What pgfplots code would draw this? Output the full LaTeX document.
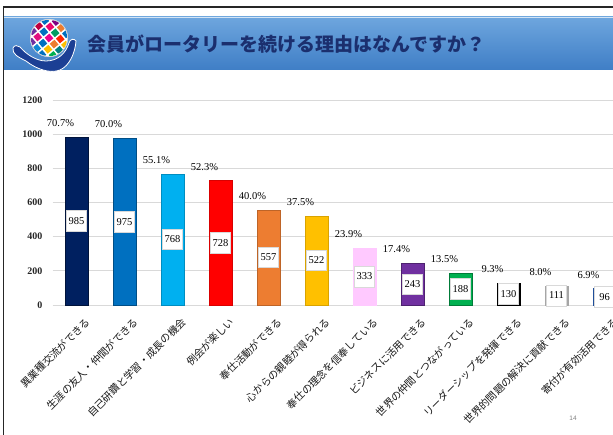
\documentclass[border=0pt]{standalone}
\usepackage{fontspec}
\setmainfont{Liberation Serif}
\setsansfont{Liberation Sans}
\newfontfamily\jp{Noto Sans CJK JP}
\usepackage{pgfplots}
\pgfplotsset{compat=1.18}
\usepackage{pgfplotstable}

\definecolor{bannerTop}{HTML}{6EA6DE}
\definecolor{bannerBot}{HTML}{3F7EC6}
\definecolor{titleC}{HTML}{1B2F6E}
\definecolor{handC}{HTML}{1C3F94}
\definecolor{c1}{HTML}{002060}
\definecolor{c2}{HTML}{0070C0}
\definecolor{c3}{HTML}{00B0F0}
\definecolor{c4}{HTML}{FF0000}
\definecolor{c5}{HTML}{ED7D31}
\definecolor{c6}{HTML}{FFC000}
\definecolor{c7}{HTML}{FFC9FF}
\definecolor{c8}{HTML}{7030A0}
\definecolor{c9}{HTML}{00B050}
\definecolor{c10}{HTML}{000000}
\definecolor{c11}{HTML}{A6A6A6}
\definecolor{c12}{HTML}{1F4E9A}

\pgfplotstableread{
x y half pct
0 985 492.5 70.7
1 975 487.5 70.0
2 768 384 55.1
3 728 364 52.3
4 557 278.5 40.0
5 522 261 37.5
6 333 166.5 23.9
7 243 121.5 17.4
8 188 94 13.5
9 130 65 9.3
10 111 55.5 8.0
11 96 48 6.9
}\datatable

\begin{document}
\begin{tikzpicture}
\useasboundingbox (0pt,0pt) rectangle (613pt,435pt);
\clip (0pt,0pt) rectangle (613pt,435pt);
\begin{scope}[x=1pt,y=1pt]
\fill[white] (0,0) rectangle (613,435);
% slide frame
\draw[black!85, line width=1.4pt] (3.5,-2) -- (3.5,428) -- (615,428);
% banner
\shade[top color=bannerTop, bottom color=bannerBot] (4.2,365) rectangle (615,418);
\draw[white!70!bannerTop, line width=0.8pt] (4.2,417.6) -- (615,417.6);
% logo: globe
\begin{scope}
\fill[white] (49,397) circle (19);
\clip (49,397) circle (18.2);
\foreach \i/\j/\c in {
 -2/-1/c2, -2/0/cyan!70!blue, -2/1/c8, -1/-2/c9, -1/-1/c6, -1/0/c2, -1/1/magenta!80!purple, -1/2/c8,
 0/-2/teal, 0/-1/c5, 0/0/magenta, 0/1/c2, 0/2/purple, 1/-2/c6, 1/-1/c4!70!orange, 1/0/c9!60!teal, 1/1/magenta!70!red, 1/2/c2,
 2/-1/c2, 2/0/c5, 2/1/violet, -2/-2/c3, 2/-2/c9, -2/2/c3, 2/2/c3, -3/0/c2, 3/0/c6, 0/3/c8, 0/-3/c3}
 {\fill[\c, rotate around={40:(49,397)}] ({49+\i*8-3.1},{397+\j*8-3.1}) rectangle ++(6.2,6.2);}
\end{scope}
\draw[gray!50, line width=0.4pt] (49,397) circle (18.6);
% logo: hand
\fill[handC, draw=white, line width=0.8pt] (13,387) .. controls (12,381) and (18,378) .. (26,374)
 .. controls (36,366) and (50,361) .. (60,365)
 .. controls (69,369) and (75,381) .. (76,394)
 .. controls (74,397) and (70,396) .. (69,392)
 .. controls (66,382) and (58,374) .. (46,374)
 .. controls (36,374) and (26,381) .. (20,388)
 .. controls (18,390) and (14,390) .. (13,387) -- cycle;
% title
\node[anchor=west, inner sep=0pt, text=titleC, font=\jp\bfseries\fontsize{19}{19}\selectfont] at (87,391) {会員がロータリーを続ける理由はなんですか？};
% page number
\node[text=gray, font=\sffamily\fontsize{6.5}{7}\selectfont] at (573,17) {14};
\end{scope}

\begin{axis}[
 at={(76.5pt,130pt)}, anchor=origin, scale only axis,
 width=576pt, height=205pt,
 xmin=-0.5, xmax=11.5, ymin=0, ymax=1200,
 ytick={0,200,...,1200},
 xtick={0,...,11},
 xticklabels={異業種交流ができる, 生涯の友人・仲間ができる, 自己研鑽と学習・成長の機会, 例会が楽しい, 奉仕活動ができる, 心からの親睦が得られる, 奉仕の理念を信奉している, ビジネスに活用できる, 世界の仲間とつながっている, リーダーシップを発揮できる, 世界的問題の解決に貢献できる, 寄付が有効活用できる},
 xticklabel style={rotate=45, anchor=north east, inner sep=0pt, xshift=-2.5pt, yshift=-14pt, font=\jp\fontsize{10.3}{10.3}\selectfont, text=black!90},
 yticklabel style={anchor=east, inner sep=0pt, xshift=-10pt, font=\bfseries\fontsize{10}{10}\selectfont, text=black!85},
 /pgf/number format/assume math mode=true,
 /pgf/number format/1000 sep={},
 major tick length=0pt,
 axis line style={draw=none},
 ymajorgrids, grid style={gray!30, line width=0.9pt},
 clip=false,
]
\addplot[ybar, bar width=23pt, fill=c1, draw=c1!60!black] coordinates {(0,985)};
\addplot[ybar, bar width=23pt, fill=c2, draw=c2!70!black] coordinates {(1,975)};
\addplot[ybar, bar width=23pt, fill=c3, draw=c3!80!black] coordinates {(2,768)};
\addplot[ybar, bar width=23pt, fill=c4, draw=c4!85!black] coordinates {(3,728)};
\addplot[ybar, bar width=23pt, fill=c5, draw=c5!80!black] coordinates {(4,557)};
\addplot[ybar, bar width=23pt, fill=c6, draw=c6!85!black] coordinates {(5,522)};
\addplot[ybar, bar width=23pt, fill=c7, draw=c7] coordinates {(6,333)};
\addplot[ybar, bar width=23pt, fill=c8, draw=c8!70!black] coordinates {(7,243)};
\addplot[ybar, bar width=23pt, fill=c9, draw=c9!70!black] coordinates {(8,188)};
\addplot[ybar, bar width=23pt, fill=c10, draw=c10] coordinates {(9,130)};
\addplot[ybar, bar width=23pt, fill=c11, draw=c11] coordinates {(10,111)};
\addplot[ybar, bar width=23pt, fill=c12, draw=c12] coordinates {(11,96)};
% count boxes
\addplot[draw=none, mark=none, point meta=explicit symbolic,
 nodes near coords={\pgfplotspointmeta},
 every node near coord/.style={anchor=center, fill=white, draw=gray!30, line width=0.5pt, inner sep=0pt,
   minimum width=20pt, minimum height=20.5pt, font=\fontsize{10.5}{10.5}\selectfont, text=black}]
 table[x=x, y=half, meta=y] {\datatable};
% percentage labels
\addplot[draw=none, mark=none, point meta=explicit symbolic,
 nodes near coords={\pgfplotspointmeta\%},
 every node near coord/.style={anchor=center, inner sep=0pt, xshift=-16pt, yshift=14pt,
   font=\fontsize{10.5}{10.5}\selectfont, text=black}]
 table[x=x, y=y, meta=pct] {\datatable};
\end{axis}
\end{tikzpicture}
\end{document}
